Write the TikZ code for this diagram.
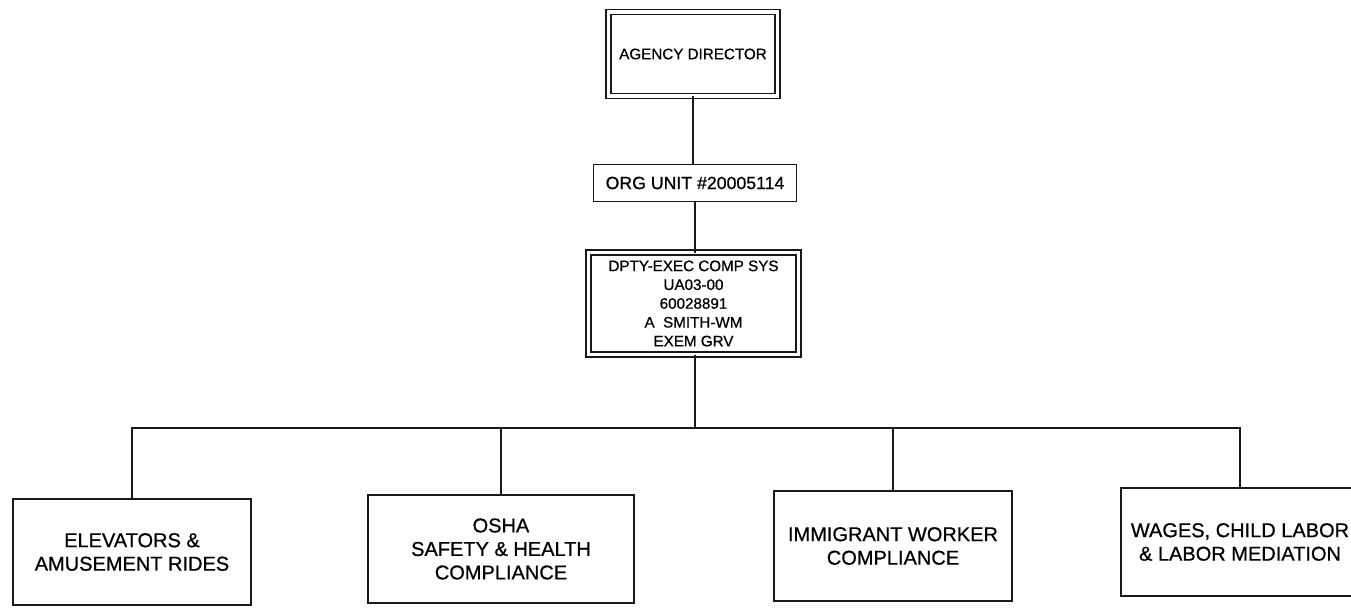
\documentclass[tikz,border=0pt]{standalone}
\usepackage{fontspec}
\setmainfont{Liberation Sans}[FakeBold=0.7]
\begin{document}
\begin{tikzpicture}[x=1pt,y=-1pt,
  every node/.style={inner sep=0pt, outer sep=0pt, align=center, text=black},
  box/.style={draw=black!90, line width=1.8pt, fill=white},
  dbox/.style={draw=black!90, line width=1.5pt, double=white, double distance=3.6pt},
  link/.style={draw=black!90, line width=1.8pt},
  toptext/.style={font=\fontsize{15.2}{18.8}\selectfont},
  unittext/.style={font=\fontsize{17.7}{21}\selectfont},
  divtext/.style={font=\fontsize{20}{23.5}\selectfont}]
  \useasboundingbox (0,0) rectangle (1351,608);
  \clip (0,0) rectangle (1351,608);
  \fill[white] (0,0) rectangle (1351,608);

  % upper chain
  \node[dbox, toptext, minimum width=169pt, minimum height=84pt] (dir) at (693,54) {AGENCY DIRECTOR};
  \node[box, unittext, minimum width=203pt, minimum height=37pt] (org) at (695,183) {ORG UNIT \#20005114};
  \node[dbox, toptext, minimum width=210pt, minimum height=102pt] (dep) at (693.5,303.5)
    {DPTY-EXEC COMP SYS\\UA03-00\\60028891\\A\ \ SMITH-WM\\EXEM GRV};

  % divisions
  \node[box, divtext, minimum width=238pt, minimum height=106pt] (b1) at (132,552) {ELEVATORS \&\\AMUSEMENT RIDES};
  \node[box, divtext, minimum width=266pt, minimum height=108pt] (b2) at (501,549) {OSHA\\SAFETY \& HEALTH\\COMPLIANCE};
  \node[box, divtext, minimum width=238pt, minimum height=110pt] (b3) at (893,546) {IMMIGRANT WORKER\\COMPLIANCE};
  \node[box, divtext, minimum width=238pt, minimum height=108pt] (b4) at (1240,542) {WAGES, CHILD LABOR\\\& LABOR MEDIATION};

  % connectors
  \coordinate (bus) at (695,428);
  \draw[link] (dir.south -| 693,0) -- (org.north -| 693,0);
  \draw[link] (org.south) -- (dep.north -| org.south);
  \draw[link] (dep.south -| bus) -- (bus);
  \draw[link] (b1.north) |- (bus) -| (b4.north);
  \draw[link] (b2.north) -- (b2.north |- bus);
  \draw[link] (b3.north) -- (b3.north |- bus);
\end{tikzpicture}
\end{document}
